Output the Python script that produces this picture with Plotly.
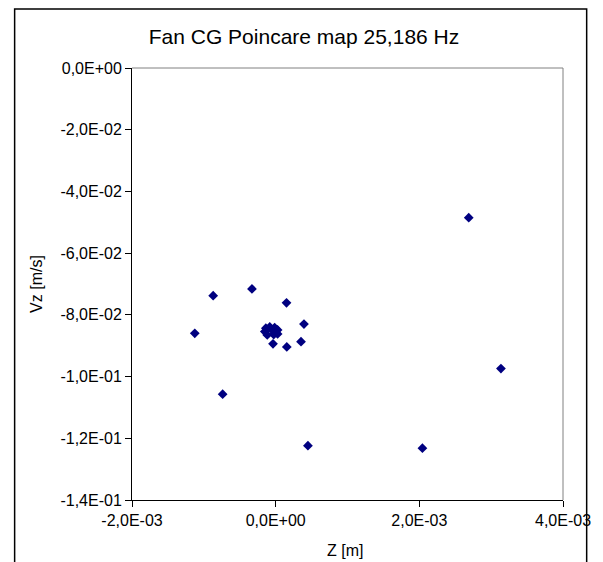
import plotly.graph_objects as go

# Data (Z [m], Vz [m/s])
z_vals = [2.688e-3, -0.870e-3, -0.330e-3, -1.126e-3, -0.738e-3, 0.449e-3, 2.043e-3,
          3.136e-3, 0.394e-3, 0.353e-3, 0.155e-3, -0.037e-3, 0.151e-3,
          -0.137e-3, -0.082e-3, -0.014e-3, 0.027e-3, 0.027e-3, -0.027e-3,
          -0.117e-3, -0.151e-3, -0.041e-3]
vz_vals = [-0.0485, -0.0738, -0.0716, -0.0860, -0.1057, -0.1224, -0.1232,
           -0.0974, -0.0830, -0.0887, -0.0904, -0.0894, -0.0761,
           -0.0843, -0.0839, -0.0841, -0.0849, -0.0862, -0.0864,
           -0.0865, -0.0854, -0.0851]

x_tickvals = [-2e-3, 0, 2e-3, 4e-3]
x_ticktext = ["-2,0E-03", "0,0E+00", "2,0E-03", "4,0E-03"]
y_tickvals = [0, -0.02, -0.04, -0.06, -0.08, -0.10, -0.12, -0.14]
y_ticktext = ["0,0E+00", "-2,0E-02", "-4,0E-02", "-6,0E-02", "-8,0E-02",
              "-1,0E-01", "-1,2E-01", "-1,4E-01"]

FONT = "Liberation Sans, Arial, sans-serif"

fig = go.Figure()
fig.add_trace(go.Scatter(
    x=z_vals, y=vz_vals, mode="markers",
    marker=dict(symbol="diamond", size=7.5, color="#000080", line=dict(width=0)),
    showlegend=False, hoverinfo="x+y"))

L, R, T, B = 132, 34, 68, 62
W, H = 603, 562
pw = W - L - R
ph = H - T - B

def px(xp):
    return (xp - L) / pw

def py(yp):
    return (H - B - yp) / ph

fig.update_layout(
    width=W, height=H,
    margin=dict(l=L, r=R, t=T, b=B),
    paper_bgcolor="white", plot_bgcolor="white",
    font=dict(family=FONT, size=16, color="black"),
    title=dict(text="Fan CG Poincare map 25,186 Hz", x=(304 / W), xanchor="center",
               y=1 - 37 / H, yanchor="middle", font=dict(size=21, family=FONT, color="black")),
    xaxis=dict(range=[-2e-3, 4e-3], tickvals=x_tickvals, ticktext=x_ticktext,
               showgrid=False, zeroline=False, showline=True, linecolor="black", linewidth=1,
               ticks="outside", ticklen=6, tickcolor="black",
               tickfont=dict(size=16)),
    yaxis=dict(range=[-0.14, 0], tickvals=y_tickvals, ticktext=y_ticktext,
               showgrid=False, zeroline=False, showline=True, linecolor="black", linewidth=1,
               ticks="outside", ticklen=6, tickcolor="black",
               title=dict(text="Vz [m/s]", standoff=13, font=dict(size=16)),
               tickfont=dict(size=16)),
    annotations=[
        dict(text="Z [m]", xref="paper", yref="paper", x=px(348), y=py(550),
             xanchor="center", yanchor="middle", showarrow=False, font=dict(size=16)),
    ],
    shapes=[
        # gray plot-area border (top and right)
        dict(type="line", xref="paper", yref="paper", x0=0, x1=1, y0=1, y1=1,
             line=dict(color="#808080", width=1), layer="below"),
        dict(type="line", xref="paper", yref="paper", x0=1, x1=1, y0=0, y1=1,
             line=dict(color="#808080", width=1), layer="below"),
        # outer chart border
        dict(type="rect", xref="paper", yref="paper",
             x0=px(13), x1=px(593), y0=py(575), y1=py(9),
             line=dict(color="black", width=1.5), fillcolor="rgba(0,0,0,0)", layer="below"),
    ],
)

fig.write_html("out.html")
